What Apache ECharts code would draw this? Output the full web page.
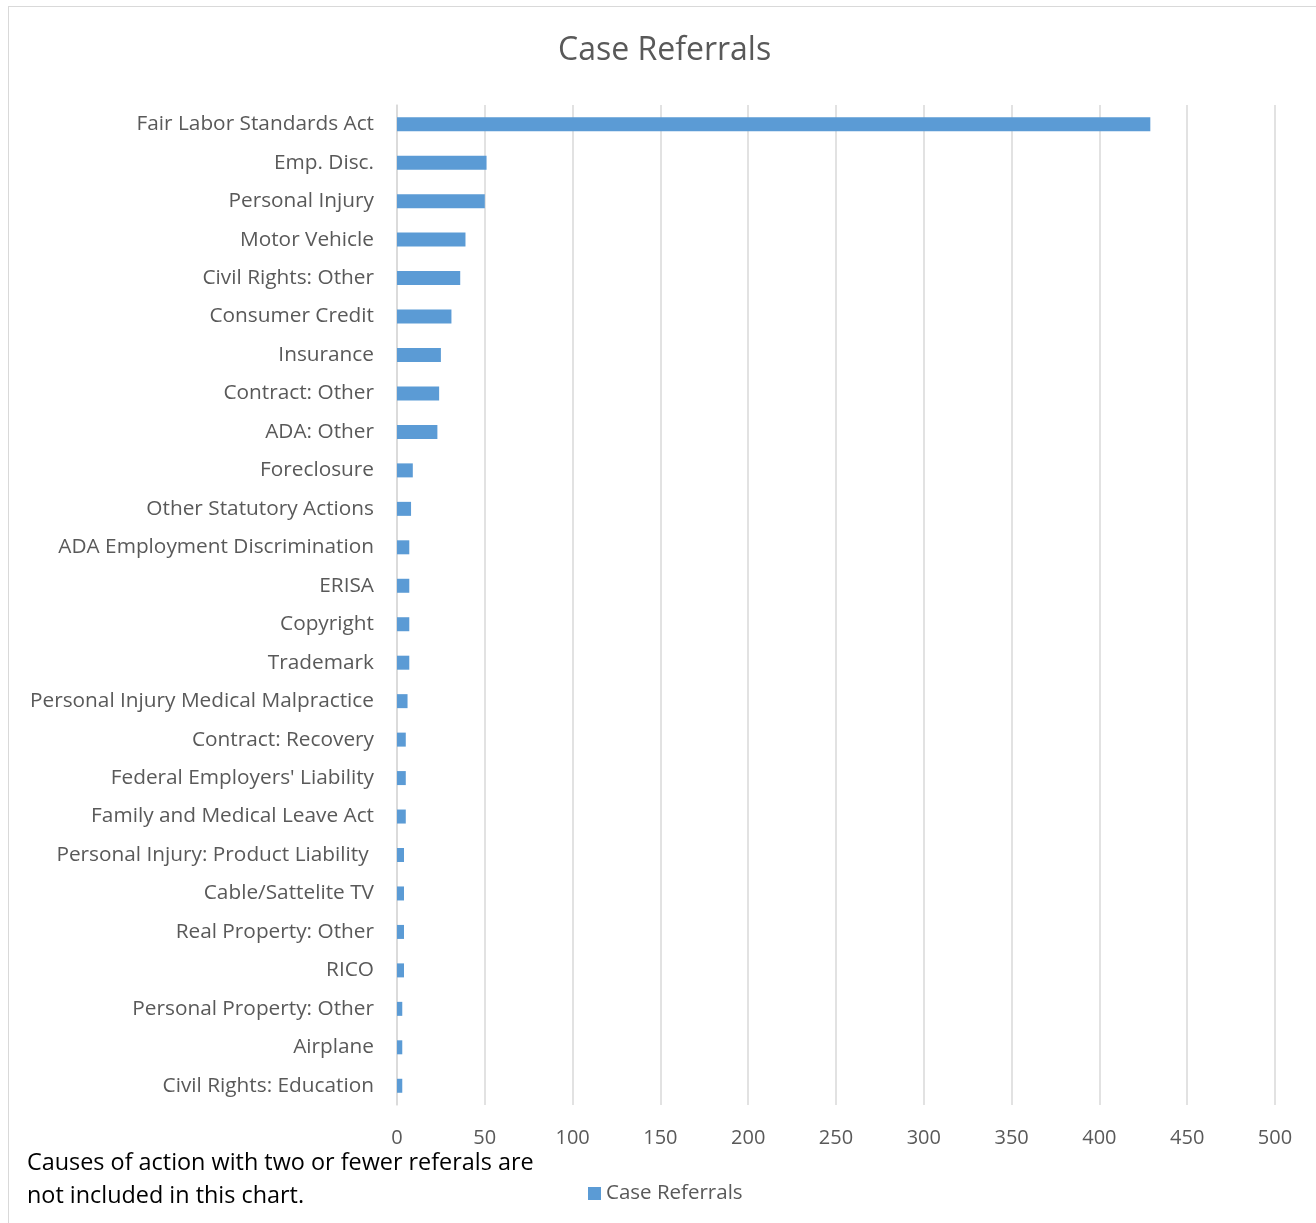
<!DOCTYPE html>
<html>
<head>
<meta charset="utf-8">
<script src="https://cdn.jsdelivr.net/npm/echarts@6/dist/echarts.min.js"></script>
<style>
html,body{margin:0;padding:0;background:#fff;}
#frame{position:absolute;left:8px;top:6px;width:1330px;height:1240px;border:1.5px solid #d9d9d9;box-sizing:border-box;}
#chart{position:absolute;left:0;top:0;width:1316px;height:1223px;}
</style>
</head>
<body>
<div id="frame"></div>
<div id="chart"></div>
<script>
const categories = [
  "Fair Labor Standards Act","Emp. Disc.","Personal Injury","Motor Vehicle","Civil Rights: Other",
  "Consumer Credit","Insurance","Contract: Other","ADA: Other","Foreclosure",
  "Other Statutory Actions","ADA Employment Discrimination","ERISA","Copyright","Trademark",
  "Personal Injury Medical Malpractice","Contract: Recovery","Federal Employers' Liability",
  "Family and Medical Leave Act","Personal Injury: Product Liability ","Cable/Sattelite TV",
  "Real Property: Other","RICO","Personal Property: Other","Airplane","Civil Rights: Education"
];
const caseReferrals = [429,51,50,39,36,31,25,24,23,9,8,7,7,7,7,6,5,5,5,4,4,4,4,3,3,3];
const xTicks = {min:0, max:500, interval:50};
const noteLines = ["Causes of action with two or fewer referals are","not included in this chart."];

const FONT = '"Open Sans", "Liberation Sans", sans-serif';
const chart = echarts.init(document.getElementById('chart'), null, {renderer:'canvas'});
chart.setOption({
  animation:false,
  backgroundColor:'transparent',
  title:{
    text:'Case Referrals', left:553, top:30,
    textStyle:{fontFamily:FONT, fontSize:32, fontWeight:'normal', color:'#595959'}
  },
  legend:{
    data:['Case Referrals'], left:583, top:1178, itemWidth:13, itemHeight:13, itemGap:6,
    icon:'rect',
    textStyle:{fontFamily:FONT, fontSize:20.5, color:'#595959'}
  },
  grid:{left:397, right:41, top:105, bottom:118, containLabel:false},
  xAxis:{
    type:'value', min:xTicks.min, max:xTicks.max, interval:xTicks.interval,
    axisLine:{show:false}, axisTick:{show:false},
    axisLabel:{fontFamily:FONT, fontSize:20, color:'#595959', margin:23},
    splitLine:{lineStyle:{color:'#d9d9d9', width:1.5}}
  },
  yAxis:{
    type:'category', data:categories, inverse:true,
    axisLine:{show:true, lineStyle:{color:'#d9d9d9', width:1.5}},
    axisTick:{show:false},
    axisLabel:{fontFamily:FONT, fontSize:20.8, color:'#595959', margin:23}
  },
  series:[{
    name:'Case Referrals', type:'bar', data:caseReferrals, barWidth:14,
    itemStyle:{color:'#5b9bd5'}
  }],
  graphic:[
    {type:'text', left:27, top:1147, style:{text:noteLines.join('\n'), font:'23.4px ' + FONT, fill:'#000', lineHeight:33}}
  ]
});
</script>
</body>
</html>
